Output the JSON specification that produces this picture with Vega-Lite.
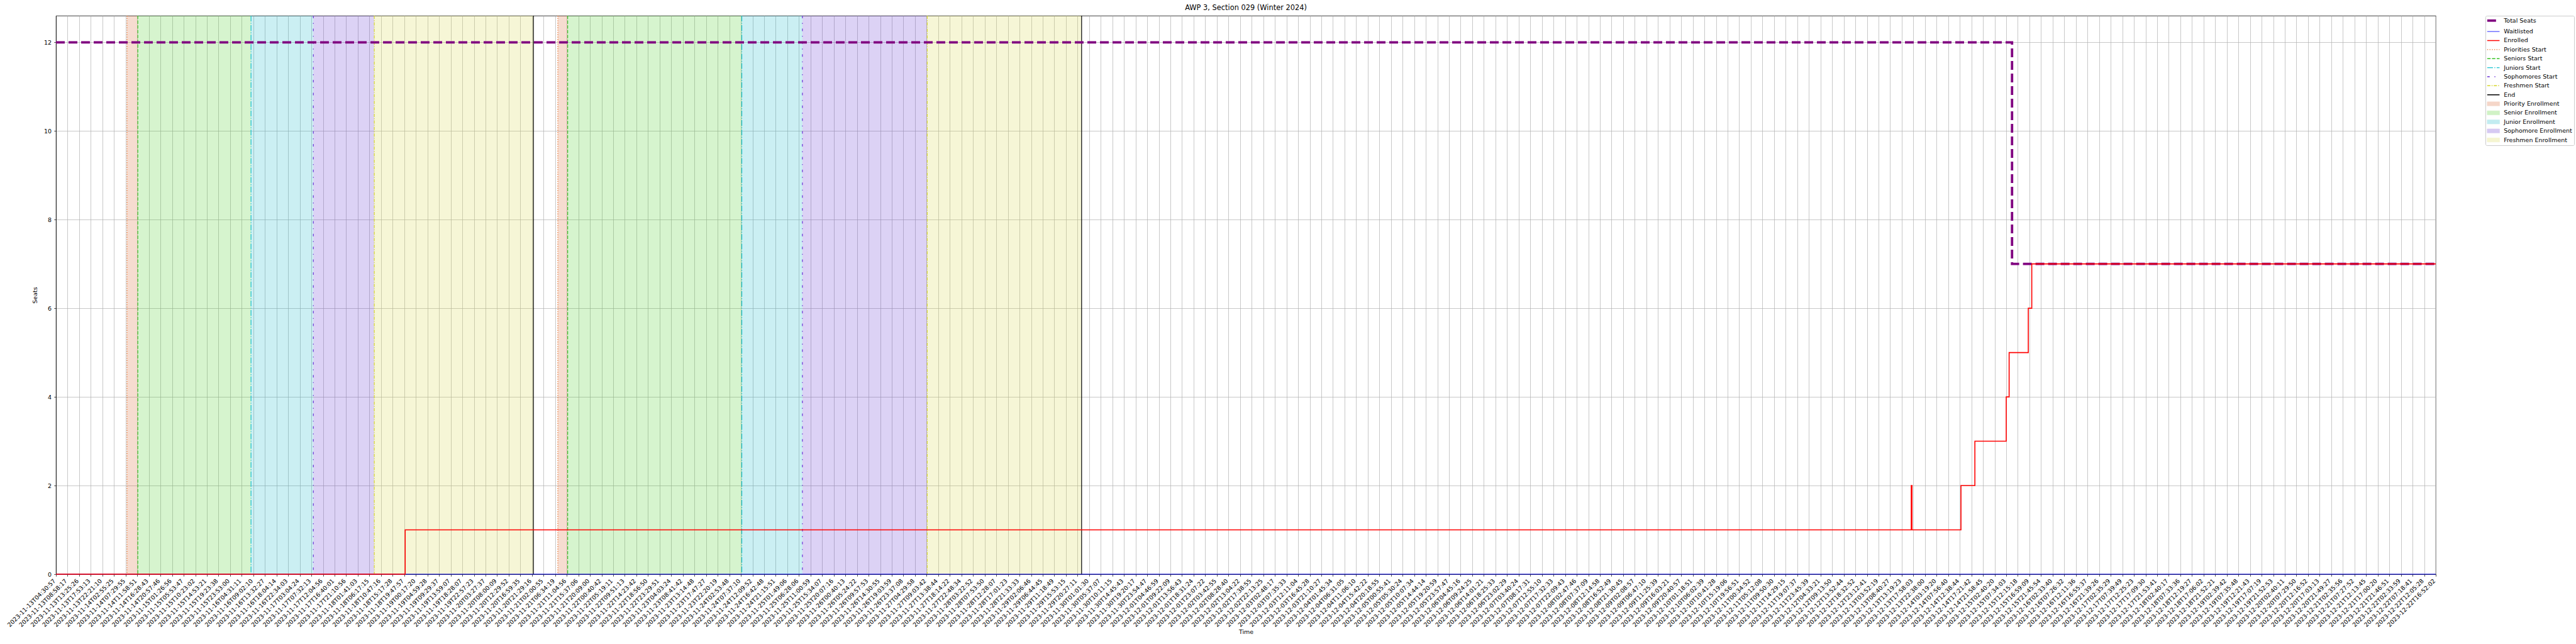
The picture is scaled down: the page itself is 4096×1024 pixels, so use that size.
{
  "$schema": "https://vega.github.io/schema/vega-lite/v6.json",
  "width": 3784,
  "height": 888,
  "autosize": "none",
  "padding": {"left": 89, "top": 25, "right": 223, "bottom": 111},
  "background": "white",
  "title": {"text": "AWP 3, Section 029 (Winter 2024)", "font": "DejaVu Sans", "fontSize": 11.4, "fontWeight": "normal", "color": "black", "offset": 6, "anchor": "middle"},
  "config": {
    "view": {"stroke": "black", "strokeWidth": 0.76},
    "font": "DejaVu Sans",
    "axis": {"gridColor": "#b0b0b0", "gridWidth": 0.7, "gridOpacity": 1, "tickColor": "black", "tickWidth": 0.7, "tickSize": 3.3, "domainColor": "black", "domainWidth": 0.76, "labelFont": "DejaVu Sans", "labelFontSize": 9.47, "labelColor": "black", "titleFont": "DejaVu Sans", "titleFontSize": 9.47, "titleFontWeight": "normal", "titleColor": "black"}
  },
  "datasets": {
    "ticks": [
      {"pos":0,"label":"2023-11-13T04:30:57"},{"pos":1,"label":"2023-11-13T08:58:17"},{"pos":2,"label":"2023-11-13T13:25:26"},{"pos":3,"label":"2023-11-13T17:53:13"},{"pos":4,"label":"2023-11-13T22:21:10"},{"pos":5,"label":"2023-11-14T02:55:25"},{"pos":6,"label":"2023-11-14T07:29:55"},{"pos":7,"label":"2023-11-14T11:58:51"},{"pos":8,"label":"2023-11-14T16:28:43"},{"pos":9,"label":"2023-11-14T20:57:46"},
      {"pos":10,"label":"2023-11-15T01:26:56"},{"pos":11,"label":"2023-11-15T05:53:47"},{"pos":12,"label":"2023-11-15T10:23:02"},{"pos":13,"label":"2023-11-15T14:53:21"},{"pos":14,"label":"2023-11-15T19:23:38"},{"pos":15,"label":"2023-11-15T23:53:00"},{"pos":16,"label":"2023-11-16T04:31:11"},{"pos":17,"label":"2023-11-16T09:02:10"},{"pos":18,"label":"2023-11-16T13:32:27"},{"pos":19,"label":"2023-11-16T18:04:14"},
      {"pos":20,"label":"2023-11-16T22:34:03"},{"pos":21,"label":"2023-11-17T03:04:24"},{"pos":22,"label":"2023-11-17T07:32:13"},{"pos":23,"label":"2023-11-17T12:04:56"},{"pos":24,"label":"2023-11-17T16:40:01"},{"pos":25,"label":"2023-11-17T21:10:56"},{"pos":26,"label":"2023-11-18T01:41:03"},{"pos":27,"label":"2023-11-18T06:17:15"},{"pos":28,"label":"2023-11-18T10:47:16"},{"pos":29,"label":"2023-11-18T15:17:28"},
      {"pos":30,"label":"2023-11-18T19:47:57"},{"pos":31,"label":"2023-11-19T00:17:20"},{"pos":32,"label":"2023-11-19T04:59:28"},{"pos":33,"label":"2023-11-19T09:29:37"},{"pos":34,"label":"2023-11-19T13:59:07"},{"pos":35,"label":"2023-11-19T18:28:07"},{"pos":36,"label":"2023-11-19T22:57:23"},{"pos":37,"label":"2023-11-20T03:27:37"},{"pos":38,"label":"2023-11-20T08:00:09"},{"pos":39,"label":"2023-11-20T12:29:52"},
      {"pos":40,"label":"2023-11-20T16:59:35"},{"pos":41,"label":"2023-11-20T21:29:16"},{"pos":42,"label":"2023-11-21T02:00:55"},{"pos":43,"label":"2023-11-21T06:34:19"},{"pos":44,"label":"2023-11-21T11:04:56"},{"pos":45,"label":"2023-11-21T15:37:06"},{"pos":46,"label":"2023-11-21T20:09:00"},{"pos":47,"label":"2023-11-22T00:40:42"},{"pos":48,"label":"2023-11-22T05:19:11"},{"pos":49,"label":"2023-11-22T09:51:13"},
      {"pos":50,"label":"2023-11-22T14:23:42"},{"pos":51,"label":"2023-11-22T18:56:50"},{"pos":52,"label":"2023-11-22T23:29:51"},{"pos":53,"label":"2023-11-23T04:03:24"},{"pos":54,"label":"2023-11-23T08:41:42"},{"pos":55,"label":"2023-11-23T13:14:48"},{"pos":56,"label":"2023-11-23T17:47:27"},{"pos":57,"label":"2023-11-23T22:20:19"},{"pos":58,"label":"2023-11-24T02:53:48"},{"pos":59,"label":"2023-11-24T07:37:10"},
      {"pos":60,"label":"2023-11-24T12:09:52"},{"pos":61,"label":"2023-11-24T16:42:48"},{"pos":62,"label":"2023-11-24T21:15:51"},{"pos":63,"label":"2023-11-25T01:49:06"},{"pos":64,"label":"2023-11-25T06:28:06"},{"pos":65,"label":"2023-11-25T11:00:59"},{"pos":66,"label":"2023-11-25T15:34:07"},{"pos":67,"label":"2023-11-25T20:07:16"},{"pos":68,"label":"2023-11-26T00:40:13"},{"pos":69,"label":"2023-11-26T05:24:22"},
      {"pos":70,"label":"2023-11-26T09:57:53"},{"pos":71,"label":"2023-11-26T14:30:55"},{"pos":72,"label":"2023-11-26T19:03:59"},{"pos":73,"label":"2023-11-26T23:37:08"},{"pos":74,"label":"2023-11-27T04:29:58"},{"pos":75,"label":"2023-11-27T09:03:42"},{"pos":76,"label":"2023-11-27T13:38:44"},{"pos":77,"label":"2023-11-27T18:14:22"},{"pos":78,"label":"2023-11-27T22:48:34"},{"pos":79,"label":"2023-11-28T03:22:52"},
      {"pos":80,"label":"2023-11-28T07:53:50"},{"pos":81,"label":"2023-11-28T12:28:07"},{"pos":82,"label":"2023-11-28T17:01:23"},{"pos":83,"label":"2023-11-28T21:33:33"},{"pos":84,"label":"2023-11-29T02:06:46"},{"pos":85,"label":"2023-11-29T06:44:45"},{"pos":86,"label":"2023-11-29T11:18:49"},{"pos":87,"label":"2023-11-29T15:53:15"},{"pos":88,"label":"2023-11-29T20:27:11"},{"pos":89,"label":"2023-11-30T01:01:30"},
      {"pos":90,"label":"2023-11-30T05:37:07"},{"pos":91,"label":"2023-11-30T10:11:15"},{"pos":92,"label":"2023-11-30T14:45:43"},{"pos":93,"label":"2023-11-30T19:20:17"},{"pos":94,"label":"2023-11-30T23:54:47"},{"pos":95,"label":"2023-12-01T04:46:59"},{"pos":96,"label":"2023-12-01T09:22:09"},{"pos":97,"label":"2023-12-01T13:56:43"},{"pos":98,"label":"2023-12-01T18:31:24"},{"pos":99,"label":"2023-12-01T23:07:22"},
      {"pos":100,"label":"2023-12-02T03:42:55"},{"pos":101,"label":"2023-12-02T08:28:40"},{"pos":102,"label":"2023-12-02T13:04:22"},{"pos":103,"label":"2023-12-02T17:38:55"},{"pos":104,"label":"2023-12-02T22:13:25"},{"pos":105,"label":"2023-12-03T02:48:17"},{"pos":106,"label":"2023-12-03T07:35:33"},{"pos":107,"label":"2023-12-03T12:11:04"},{"pos":108,"label":"2023-12-03T16:45:28"},{"pos":109,"label":"2023-12-03T21:10:27"},
      {"pos":110,"label":"2023-12-04T01:45:34"},{"pos":111,"label":"2023-12-04T06:31:05"},{"pos":112,"label":"2023-12-04T11:06:10"},{"pos":113,"label":"2023-12-04T15:42:22"},{"pos":114,"label":"2023-12-04T20:18:55"},{"pos":115,"label":"2023-12-05T00:55:41"},{"pos":116,"label":"2023-12-05T05:30:24"},{"pos":117,"label":"2023-12-05T10:07:34"},{"pos":118,"label":"2023-12-05T14:44:14"},{"pos":119,"label":"2023-12-05T19:20:59"},
      {"pos":120,"label":"2023-12-05T23:57:47"},{"pos":121,"label":"2023-12-06T04:45:16"},{"pos":122,"label":"2023-12-06T09:24:25"},{"pos":123,"label":"2023-12-06T14:01:21"},{"pos":124,"label":"2023-12-06T18:25:33"},{"pos":125,"label":"2023-12-06T23:02:29"},{"pos":126,"label":"2023-12-07T03:40:24"},{"pos":127,"label":"2023-12-07T08:17:31"},{"pos":128,"label":"2023-12-07T12:55:10"},{"pos":129,"label":"2023-12-07T17:32:33"},
      {"pos":130,"label":"2023-12-07T22:09:43"},{"pos":131,"label":"2023-12-08T02:47:46"},{"pos":132,"label":"2023-12-08T07:37:09"},{"pos":133,"label":"2023-12-08T12:14:58"},{"pos":134,"label":"2023-12-08T16:52:49"},{"pos":135,"label":"2023-12-08T21:30:45"},{"pos":136,"label":"2023-12-09T02:08:57"},{"pos":137,"label":"2023-12-09T06:47:10"},{"pos":138,"label":"2023-12-09T11:25:39"},{"pos":139,"label":"2023-12-09T16:03:21"},
      {"pos":140,"label":"2023-12-09T20:40:57"},{"pos":141,"label":"2023-12-10T01:18:51"},{"pos":142,"label":"2023-12-10T06:02:39"},{"pos":143,"label":"2023-12-10T10:41:28"},{"pos":144,"label":"2023-12-10T15:19:06"},{"pos":145,"label":"2023-12-10T19:56:51"},{"pos":146,"label":"2023-12-11T00:34:52"},{"pos":147,"label":"2023-12-11T05:12:08"},{"pos":148,"label":"2023-12-11T09:50:30"},{"pos":149,"label":"2023-12-11T14:29:15"},
      {"pos":150,"label":"2023-12-11T19:07:37"},{"pos":151,"label":"2023-12-11T23:45:39"},{"pos":152,"label":"2023-12-12T04:33:21"},{"pos":153,"label":"2023-12-12T09:13:50"},{"pos":154,"label":"2023-12-12T13:52:44"},{"pos":155,"label":"2023-12-12T18:32:52"},{"pos":156,"label":"2023-12-12T23:12:41"},{"pos":157,"label":"2023-12-13T03:52:19"},{"pos":158,"label":"2023-12-13T08:40:27"},{"pos":159,"label":"2023-12-13T13:19:23"},
      {"pos":160,"label":"2023-12-13T17:58:03"},{"pos":161,"label":"2023-12-13T22:38:00"},{"pos":162,"label":"2023-12-14T03:19:20"},{"pos":163,"label":"2023-12-14T07:56:40"},{"pos":164,"label":"2023-12-14T12:38:44"},{"pos":165,"label":"2023-12-14T17:21:42"},{"pos":166,"label":"2023-12-14T21:58:45"},{"pos":167,"label":"2023-12-15T02:40:20"},{"pos":168,"label":"2023-12-15T07:34:03"},{"pos":169,"label":"2023-12-15T12:15:18"},
      {"pos":170,"label":"2023-12-15T16:59:09"},{"pos":171,"label":"2023-12-15T21:45:54"},{"pos":172,"label":"2023-12-16T02:33:40"},{"pos":173,"label":"2023-12-16T07:26:32"},{"pos":174,"label":"2023-12-16T12:11:36"},{"pos":175,"label":"2023-12-16T16:55:37"},{"pos":176,"label":"2023-12-16T21:39:26"},{"pos":177,"label":"2023-12-17T02:35:29"},{"pos":178,"label":"2023-12-17T07:39:49"},{"pos":179,"label":"2023-12-17T12:25:23"},
      {"pos":180,"label":"2023-12-17T17:09:30"},{"pos":181,"label":"2023-12-17T21:53:41"},{"pos":182,"label":"2023-12-18T02:40:17"},{"pos":183,"label":"2023-12-18T07:33:36"},{"pos":184,"label":"2023-12-18T12:19:27"},{"pos":185,"label":"2023-12-18T17:06:02"},{"pos":186,"label":"2023-12-18T21:52:21"},{"pos":187,"label":"2023-12-19T02:39:42"},{"pos":188,"label":"2023-12-19T07:35:48"},{"pos":189,"label":"2023-12-19T12:21:43"},
      {"pos":190,"label":"2023-12-19T17:07:19"},{"pos":191,"label":"2023-12-19T21:52:53"},{"pos":192,"label":"2023-12-20T02:40:11"},{"pos":193,"label":"2023-12-20T07:29:50"},{"pos":194,"label":"2023-12-20T12:16:52"},{"pos":195,"label":"2023-12-20T17:03:13"},{"pos":196,"label":"2023-12-20T21:49:27"},{"pos":197,"label":"2023-12-21T02:35:56"},{"pos":198,"label":"2023-12-21T07:27:52"},{"pos":199,"label":"2023-12-21T12:13:45"},
      {"pos":200,"label":"2023-12-21T17:00:20"},{"pos":201,"label":"2023-12-21T21:46:51"},{"pos":202,"label":"2023-12-22T02:33:59"},{"pos":203,"label":"2023-12-22T07:18:41"},{"pos":204,"label":"2023-12-22T12:05:28"},{"pos":205,"label":"2023-12-22T16:52:02"}
    ],
    "phases": [
      {"name":"Priority Enrollment","pos":6.12,"pos2":7.05},
      {"name":"Senior Enrollment","pos":7.05,"pos2":16.8},
      {"name":"Junior Enrollment","pos":16.8,"pos2":22.17},
      {"name":"Sophomore Enrollment","pos":22.17,"pos2":27.42},
      {"name":"Freshmen Enrollment","pos":27.42,"pos2":41.13},
      {"name":"Priority Enrollment","pos":43.23,"pos2":44.08},
      {"name":"Senior Enrollment","pos":44.08,"pos2":59.08},
      {"name":"Junior Enrollment","pos":59.08,"pos2":64.3},
      {"name":"Sophomore Enrollment","pos":64.3,"pos2":75.05},
      {"name":"Freshmen Enrollment","pos":75.05,"pos2":88.35}
    ],
    "events": [
      {"name":"Priorities Start","pos":6.12},
      {"name":"Seniors Start","pos":7.05},
      {"name":"Juniors Start","pos":16.8},
      {"name":"Sophomores Start","pos":22.17},
      {"name":"Freshmen Start","pos":27.42},
      {"name":"End","pos":41.13},
      {"name":"Priorities Start","pos":43.23},
      {"name":"Seniors Start","pos":44.08},
      {"name":"Juniors Start","pos":59.08},
      {"name":"Sophomores Start","pos":64.3},
      {"name":"Freshmen Start","pos":75.05},
      {"name":"End","pos":88.35}
    ],
    "seats": [
      {"pos":0,"value":12},{"pos":168.5,"value":7},{"pos":205,"value":7}
    ],
    "waitlisted": [
      {"pos":0,"value":0},{"pos":205,"value":0}
    ],
    "enrolled": [
      {"pos":0,"value":0},{"pos":30.08,"value":1},{"pos":159.82,"value":2},{"pos":159.88,"value":1},{"pos":164.1,"value":2},{"pos":165.3,"value":3},{"pos":168.0,"value":4},{"pos":168.25,"value":5},{"pos":169.9,"value":6},{"pos":170.2,"value":7},{"pos":205,"value":7}
    ]
  },
  "encoding": {
    "x": {"field": "pos", "type": "quantitative", "scale": {"domain": [0, 205], "nice": false, "zero": false},
      "axis": {"tickCount": 205, "labels": false, "title": "Time", "titlePadding": 84, "grid": true}}
  },
  "layer": [
    {
      "data": {"name": "phases"},
      "mark": {"type": "rect", "fillOpacity": 0.22},
      "encoding": {
        "x2": {"field": "pos2"},
        "color": {"field": "name", "type": "nominal",
          "scale": {"domain": ["Total Seats","Waitlisted","Enrolled","Priorities Start","Seniors Start","Juniors Start","Sophomores Start","Freshmen Start","End","Priority Enrollment","Senior Enrollment","Junior Enrollment","Sophomore Enrollment","Freshmen Enrollment"],
                    "range": ["#800080","#0000ff","#ff0000","#e8702a","#3cc42a","#19c3d0","#6a2fd6","#d8d82e","#000000","#d8602a","#46cc1e","#10b8c8","#6030d0","#d8d846"]},
          "legend": {
            "title": null, "orient": "none", "legendX": 3863, "legendY": 0,
            "padding": 3, "rowPadding": 3.37, "symbolSize": 96, "labelOffset": 16.7, "labelLimit": 400,
            "labelFont": "DejaVu Sans", "labelFontSize": 9.47, "labelColor": "black",
            "strokeColor": "#cccccc", "fillColor": "white", "cornerRadius": 2, "symbolLimit": 0,
            "symbolType": {"expr": "indexof(['Total Seats','Waitlisted','Enrolled','Priorities Start','Seniors Start','Juniors Start','Sophomores Start','Freshmen Start','End'], datum.value) >= 0 ? 'M-1,0H3' : 'M-1,-0.65H3V0.65H-1Z'"},
            "symbolStrokeColor": {"expr": "scale('color', datum.value)"},
            "symbolOpacity": {"expr": "indexof(['Total Seats','Waitlisted','Enrolled','Priorities Start','Seniors Start','Juniors Start','Sophomores Start','Freshmen Start','End'], datum.value) >= 0 ? 1 : 0.25"},
            "symbolStrokeWidth": {"expr": "datum.value == 'Total Seats' ? 3.8 : datum.value == 'Waitlisted' ? 0.9 : datum.value == 'Enrolled' ? 1.6 : indexof(['Priorities Start','Seniors Start','Juniors Start','Sophomores Start','Freshmen Start','End'], datum.value) >= 0 ? 1.42 : 0.7"},
            "symbolDash": {"expr": "datum.value == 'Total Seats' ? [14,6] : datum.value == 'Priorities Start' ? [1.4,2.3] : datum.value == 'Seniors Start' ? [5.3,2.3] : datum.value == 'Juniors Start' ? [9.1,2.3,1.4,2.3] : datum.value == 'Sophomores Start' ? [4,7.5,1.4,7.5] : datum.value == 'Freshmen Start' ? [5,2,1.4,2] : [1,0]"}
          }
        }
      }
    },
    {
      "data": {"name": "events"},
      "mark": {"type": "rule", "strokeWidth": 1.2},
      "encoding": {
        "stroke": {"field": "name", "type": "nominal", "legend": null,
          "scale": {"domain": ["Priorities Start","Seniors Start","Juniors Start","Sophomores Start","Freshmen Start","End"],
                    "range": ["#e8702a","#3cc42a","#19c3d0","#6a2fd6","#d8d82e","#000000"]}},
        "strokeDash": {"field": "name", "type": "nominal", "legend": null,
          "scale": {"domain": ["Priorities Start","Seniors Start","Juniors Start","Sophomores Start","Freshmen Start","End"],
                    "range": [[1.4,2.3],[5.3,2.3],[9.1,2.3,1.4,2.3],[4,7.5,1.4,7.5],[5,2,1.4,2],[1,0]]}}
      }
    },
    {
      "data": {"name": "seats"},
      "mark": {"type": "line", "interpolate": "step-after", "strokeWidth": 3.8, "strokeDash": [14, 6], "strokeCap": "butt", "color": "#800080"},
      "encoding": {
        "y": {"field": "value", "type": "quantitative", "scale": {"domain": [0, 12.6], "nice": false, "zero": false},
          "axis": {"values": [0, 2, 4, 6, 8, 10, 12], "format": "d", "title": "Seats", "titlePadding": 9, "labelPadding": 4.2, "grid": true}}
      }
    },
    {
      "data": {"name": "waitlisted"},
      "mark": {"type": "line", "interpolate": "step-after", "strokeWidth": 0.9, "color": "#0000ff"},
      "encoding": {
        "y": {"field": "value", "type": "quantitative"}
      }
    },
    {
      "data": {"name": "enrolled"},
      "mark": {"type": "line", "interpolate": "step-after", "strokeWidth": 1.6, "color": "#ff0000"},
      "encoding": {
        "y": {"field": "value", "type": "quantitative"}
      }
    },
    {
      "data": {"name": "ticks"},
      "mark": {"type": "text", "angle": 315, "align": "right", "baseline": "top", "dx": -8.2, "dy": 1.1, "font": "DejaVu Sans", "fontSize": 9.47, "color": "black", "clip": false},
      "encoding": {
        "y": {"datum": 0, "type": "quantitative"},
        "text": {"field": "label", "type": "nominal"}
      }
    }
  ]
}
